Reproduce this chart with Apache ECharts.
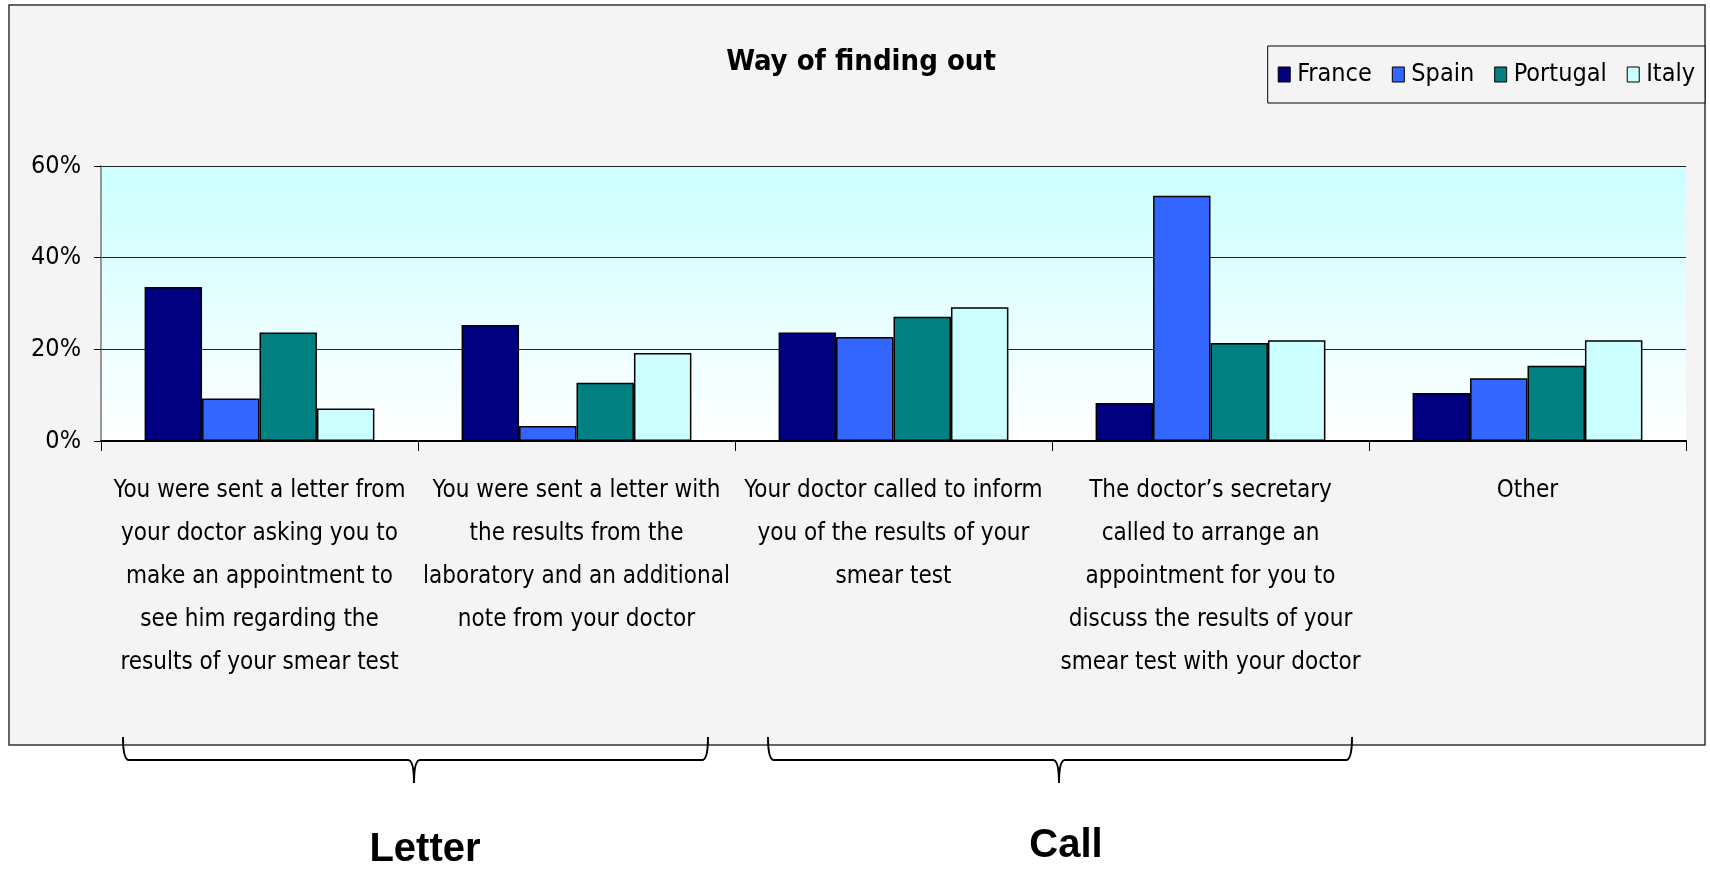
<!DOCTYPE html>
<html>
<head>
<meta charset="utf-8">
<script src="https://cdn.jsdelivr.net/npm/echarts@6/dist/echarts.min.js"></script>
<style>
  html, body { margin: 0; padding: 0; background: #ffffff; }
  #chart { width: 1710px; height: 873px; }
</style>
</head>
<body>
<div id="chart"></div>
<script>
// category labels (line breaks as in the original)
var categories = [
  "You were sent a letter from\nyour doctor asking you to\nmake an appointment to\nsee him regarding the\nresults of your smear test",
  "You were sent a letter with\nthe results from the\nlaboratory and an additional\nnote from your doctor",
  "Your doctor called to inform\nyou of the results of your\nsmear test",
  "The doctor\u2019s secretary\ncalled to arrange an\nappointment for you to\ndiscuss the results of your\nsmear test with your doctor",
  "Other"
];
var countries = ["France", "Spain", "Portugal", "Italy"];
var france = [33.6, 25.3, 23.7, 8.3, 10.5];
var spain = [9.3, 3.3, 22.7, 53.5, 13.7];
var portugal = [23.7, 12.7, 27.1, 21.4, 16.4];
var italy = [7.1, 19.2, 29.2, 22.0, 22.0];
var yTicks = [0, 20, 40, 60];
var groups = ["Letter", "Call"];

var colors = ["#000080", "#3366ff", "#008080", "#ccffff"];
var seriesData = [france, spain, portugal, italy];
var narrow = "'Liberation Sans Narrow', 'Arial Narrow', 'DejaVu Sans Condensed', sans-serif";

var myChart = echarts.init(document.getElementById("chart"));

// curly brace below the frame, built from lines and curves
function brace(x1, x2, xc) {
  var top = 737, mid = 760, tip = 783, r = 6;
  var st = { stroke: "#000", lineWidth: 2, fill: null };
  return [
    { type: "bezierCurve", shape: { x1: x1, y1: top, x2: x1 + r, y2: mid, cpx1: x1, cpy1: mid }, style: st },
    { type: "line", shape: { x1: x1 + r, y1: mid, x2: xc - r, y2: mid }, style: st },
    { type: "bezierCurve", shape: { x1: xc - r, y1: mid, x2: xc, y2: tip, cpx1: xc, cpy1: mid }, style: st },
    { type: "bezierCurve", shape: { x1: xc + r, y1: mid, x2: xc, y2: tip, cpx1: xc, cpy1: mid }, style: st },
    { type: "line", shape: { x1: xc + r, y1: mid, x2: x2 - r, y2: mid }, style: st },
    { type: "bezierCurve", shape: { x1: x2, y1: top, x2: x2 - r, y2: mid, cpx1: x2, cpy1: mid }, style: st }
  ];
}

var series = [];
for (var i = 0; i < countries.length; i++) {
  series.push({
    name: countries[i],
    type: "bar",
    data: seriesData[i],
    barGap: "0%",
    barCategoryGap: "27.5%",
    itemStyle: {
      color: colors[i],
      borderColor: "#000",
      borderWidth: 1.5
    }
  });
}

var graphics = [
  {
    type: "rect",
    z: -10,
    shape: { x: 9, y: 5, width: 1696, height: 740 },
    style: { fill: "#f4f4f4", stroke: "#333", lineWidth: 1.5 }
  },
  {
    type: "text",
    x: 425, y: 850,
    style: {
      text: groups[0], fill: "#000", align: "center", verticalAlign: "middle",
      font: "bold 40px 'Liberation Sans', Arial, sans-serif"
    }
  },
  {
    type: "text",
    x: 1066, y: 846,
    style: {
      text: groups[1], fill: "#000", align: "center", verticalAlign: "middle",
      font: "bold 40px 'Liberation Sans', Arial, sans-serif"
    }
  }
].concat(brace(123, 708, 414), brace(768, 1352, 1059));

myChart.setOption({
  animation: false,
  graphic: graphics,
  title: {
    text: "Way of finding out",
    left: 856,
    top: 43,
    textAlign: "center",
    textStyle: {
      fontFamily: narrow,
      fontWeight: "bold",
      fontSize: 29,
      color: "#000"
    }
  },
  legend: {
    data: countries,
    right: 5,
    top: 46,
    padding: [16, 10, 16, 10],
    itemGap: 20,
    itemWidth: 12,
    itemHeight: 15,
    icon: "rect",
    borderColor: "#000",
    borderWidth: 1,
    backgroundColor: "#f4f4f4",
    itemStyle: { borderColor: "#000", borderWidth: 1 },
    textStyle: { fontFamily: narrow, fontSize: 25, color: "#000", padding: [0, 0, 0, 2] }
  },
  grid: {
    left: 101,
    right: 24,
    top: 166,
    bottom: 432,
    show: true,
    borderWidth: 0,
    backgroundColor: new echarts.graphic.LinearGradient(0, 0, 0, 1, [
      { offset: 0, color: "#ccffff" },
      { offset: 1, color: "#ffffff" }
    ])
  },
  xAxis: {
    type: "category",
    data: categories,
    axisLine: { lineStyle: { color: "#000", width: 2 } },
    axisTick: { show: true, length: 10, lineStyle: { color: "#000" } },
    axisLabel: {
      interval: 0,
      margin: 28,
      lineHeight: 43,
      fontFamily: narrow,
      fontSize: 24,
      color: "#000"
    }
  },
  yAxis: {
    type: "value",
    min: yTicks[0],
    max: yTicks[yTicks.length - 1],
    interval: 20,
    axisLine: { show: true, lineStyle: { color: "#777", width: 1.5 } },
    axisTick: { show: true, length: 7, lineStyle: { color: "#000" } },
    splitLine: { lineStyle: { color: "#222", width: 1.2 } },
    axisLabel: {
      formatter: "{value}%",
      margin: 20,
      fontFamily: narrow,
      fontSize: 25,
      color: "#000"
    }
  },
  series: series
});
</script>
</body>
</html>
